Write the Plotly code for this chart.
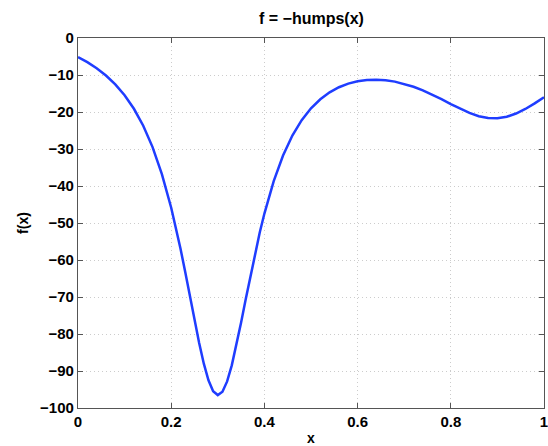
import plotly.graph_objects as go

x_vals = [0.00, 0.02, 0.04, 0.06, 0.08, 0.10, 0.12, 0.14, 0.16, 0.18,
          0.20, 0.21, 0.22, 0.23, 0.24, 0.25, 0.26, 0.27, 0.28, 0.29,
          0.30, 0.31, 0.32, 0.33, 0.34, 0.35, 0.36, 0.37, 0.38, 0.39,
          0.40, 0.42, 0.44, 0.46, 0.48, 0.50, 0.52, 0.54, 0.56, 0.58,
          0.60, 0.62, 0.64, 0.66, 0.68, 0.70, 0.72, 0.74, 0.76, 0.78,
          0.80, 0.82, 0.84, 0.86, 0.88, 0.90, 0.92, 0.94, 0.96, 0.98, 1.00]
f_vals = [-5.18, -6.54, -8.17, -10.13, -12.53, -15.47, -19.13, -23.71, -29.49, -36.77,
          -45.89, -51.19, -56.97, -63.16, -69.63, -76.16, -82.43, -88.03, -92.51, -95.44,
          -96.50, -95.59, -92.81, -88.48, -83.04, -76.92, -70.55, -64.23, -58.20, -52.58,
          -47.45, -38.68, -31.76, -26.37, -22.21, -19.00, -16.55, -14.69, -13.31, -12.33,
          -11.69, -11.34, -11.26, -11.41, -11.79, -12.38, -13.18, -14.16, -15.29, -16.54,
          -17.85, -19.12, -20.25, -21.13, -21.64, -21.70, -21.29, -20.42, -19.18, -17.67, -16.00]

x_ticks = [0, 0.2, 0.4, 0.6, 0.8, 1]
x_tick_text = ["0", "0.2", "0.4", "0.6", "0.8", "1"]
y_ticks = [0, -10, -20, -30, -40, -50, -60, -70, -80, -90, -100]

FONT = "Liberation Sans, Arial, Helvetica, sans-serif"

fig = go.Figure()
fig.add_trace(go.Scatter(x=x_vals, y=f_vals, mode="lines",
                         line=dict(color="#1f3dff", width=2.5),
                         showlegend=False, hoverinfo="skip"))

axis_common = dict(
    showline=True, linecolor="#555555", linewidth=1.2, mirror="ticks",
    ticks="inside", ticklen=5, tickcolor="#555555",
    showgrid=True, gridcolor="#cccccc", griddash="1px,3px", gridwidth=1,
    zeroline=False, automargin=False, ticklabeloverflow="allow",
    tickfont=dict(family=FONT, size=15, color="black", weight="bold"),
)

fig.update_xaxes(range=[0, 1], tickvals=x_ticks, ticktext=x_tick_text,
                 title=dict(text="x", font=dict(family=FONT, size=14, color="black", weight="bold"), standoff=6),
                 **axis_common)
fig.update_yaxes(range=[-100, 0], tickvals=y_ticks,
                 title=dict(text="f(x)", font=dict(family=FONT, size=14, color="black", weight="bold"), standoff=8),
                 **axis_common)

fig.add_annotation(text="f = \u2212humps(x)", xref="paper", yref="paper", x=0.5, y=1,
                   yanchor="bottom", yshift=9, showarrow=False,
                   font=dict(family=FONT, size=16, color="black", weight="bold"))

fig.update_layout(width=548, height=446, margin=dict(l=78, r=4, t=38, b=38),
                  plot_bgcolor="white", paper_bgcolor="white",
                  font=dict(family=FONT))

fig.write_html("out.html", config={"displayModeBar": False},
               post_script="document.body.style.margin='0';document.body.style.overflow='hidden';")
